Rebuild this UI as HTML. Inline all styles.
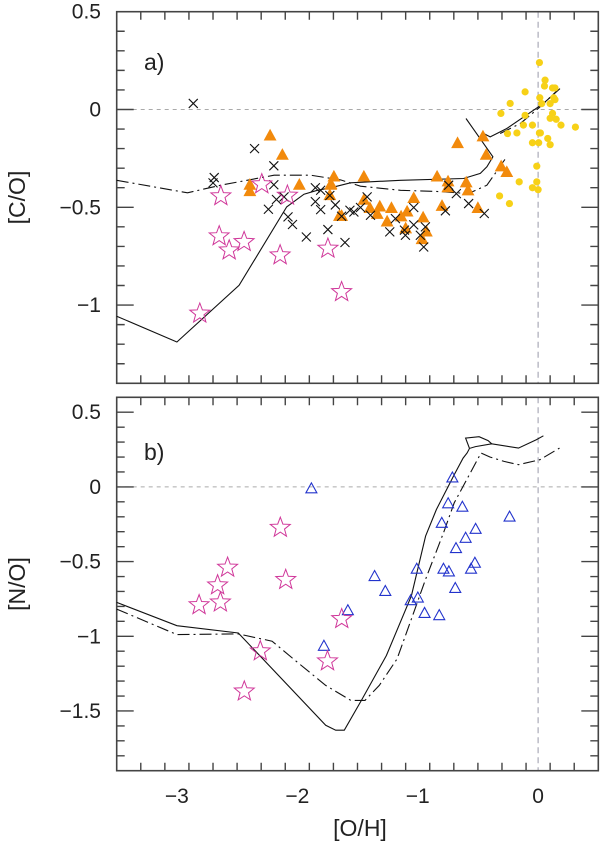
<!DOCTYPE html>
<html><head><meta charset="utf-8"><style>
html,body{margin:0;padding:0;background:#fff;}
svg{display:block;font-family:"Liberation Sans",sans-serif;}
</style></head><body>
<svg id="chart" width="600" height="843" viewBox="0 0 600 843"></svg>
<script>
// ---- data: panel a ----
const coCrossX=[-2.864,-2.69,-2.70,-2.355,-2.195,-2.195,-2.24,-2.173,-2.11,-2.077,-2.04,-1.925,-1.85,-1.85,-1.806,-1.806,-1.746,-1.73,-1.684,-1.632,-1.604,-1.563,-1.53,-1.475,-1.42,-1.392,-1.232,-1.185,-1.11,-1.102,-1.033,-1.033,-0.978,-0.95,-0.936,-0.77,-0.743,-0.679,-0.577,-0.447];
const coCrossY=[0.031,-0.348,-0.375,-0.20,-0.288,-0.385,-0.51,-0.46,-0.447,-0.549,-0.588,-0.652,-0.471,-0.40,-0.413,-0.512,-0.614,-0.44,-0.488,-0.546,-0.68,-0.515,-0.524,-0.501,-0.447,-0.541,-0.626,-0.558,-0.617,-0.643,-0.501,-0.59,-0.643,-0.703,-0.60,-0.518,-0.387,-0.43,-0.481,-0.532];
const coTriX=[-2.226,-2.124,-2.394,-2.394,-1.983,-1.696,-1.72,-1.73,-1.65,-1.723,-1.632,-1.447,-1.447,-1.397,-1.315,-1.336,-1.254,-1.218,-1.138,-1.088,-1.10,-1.033,-0.955,-0.928,-0.964,-0.839,-0.798,-0.748,-0.75,-0.669,-0.597,-0.582,-0.5,-0.431,-0.307,-0.26,-0.458];
const coTriY=[-0.135,-0.234,-0.387,-0.42,-0.387,-0.345,-0.384,-0.44,-0.546,-0.387,-0.546,-0.345,-0.464,-0.506,-0.498,-0.536,-0.575,-0.506,-0.549,-0.524,-0.61,-0.455,-0.554,-0.626,-0.665,-0.345,-0.495,-0.37,-0.40,-0.174,-0.375,-0.416,-0.506,-0.234,-0.293,-0.322,-0.14];
const coDotX=[-0.309,-0.232,-0.32,-0.238,-0.254,-0.176,-0.157,-0.108,-0.108,-0.122,-0.047,-0.047,-0.047,-0.011,-0.011,0.0,0.005,0.011,0.011,0.019,0.014,0.058,0.053,0.03,0.08,0.10,0.10,0.10,0.12,0.12,0.14,0.13,0.14,0.15,0.19,0.31];
const coDotY=[-0.02,0.031,-0.442,-0.481,-0.123,-0.12,-0.37,0.09,-0.03,-0.08,-0.08,-0.17,-0.40,-0.29,-0.37,-0.41,-0.17,0.24,-0.12,-0.12,0.06,0.15,0.12,0.03,-0.148,-0.18,-0.045,0.03,-0.02,0.11,0.11,0.06,0.05,-0.05,-0.08,-0.09];
const coStarX=[-2.635,-2.649,-2.566,-2.442,-2.295,-2.082,-2.143,-1.746,-2.81,-1.632];
const coStarY=[-0.443,-0.648,-0.72,-0.677,-0.382,-0.44,-0.745,-0.711,-1.043,-0.933];
const coSolidX=[-3.5,-3.0,-2.483,-2.088,-1.944,-1.834,-1.72,-1.558,-1.143,-0.619,-0.48,-0.425,-0.375,-0.599];
const coSolidY=[-1.057,-1.189,-0.899,-0.498,-0.433,-0.413,-0.40,-0.375,-0.362,-0.353,-0.327,-0.293,-0.242,-0.046];
const coSolid2X=[-0.46,-0.398,-0.26,-0.039,0.044,0.182];
const coSolid2Y=[-0.12,-0.14,-0.097,-0.004,0.031,0.107];
const coDashX=[-3.5,-2.912,-2.635,-2.193,-1.889,-1.64,-1.475,-1.143,-0.81,-0.58,-0.425,-0.356,-0.30,-0.26];
const coDashY=[-0.362,-0.426,-0.387,-0.336,-0.336,-0.36,-0.392,-0.413,-0.42,-0.43,-0.387,-0.327,-0.276,-0.242];
const coDash2X=[-0.315,-0.149,0.017,0.168];
const coDash2Y=[-0.123,-0.072,0.013,0.102];
// ---- data: panel b ----
const noTriX=[-1.883,-0.712,-0.747,-0.629,-0.80,-0.519,-0.602,-0.682,-0.237,-1.008,-0.786,-0.741,-0.525,-0.557,-1.358,-1.269,-1.058,-0.999,-0.688,-0.943,-0.821,-1.58,-1.779];
const noTriY=[-0.013,0.06,-0.113,-0.136,-0.244,-0.284,-0.344,-0.413,-0.202,-0.551,-0.551,-0.569,-0.511,-0.551,-0.60,-0.70,-0.762,-0.744,-0.68,-0.847,-0.862,-0.829,-1.067];
const noStarX=[-2.141,-2.579,-2.096,-2.662,-2.639,-2.816,-1.631,-2.307,-1.749,-2.44];
const noStarY=[-0.273,-0.54,-0.622,-0.658,-0.773,-0.791,-0.884,-1.10,-1.167,-1.369];
const noSolidX=[-3.5,-3.0,-2.49,-1.764,-1.681,-1.61,-1.468,-1.26,-1.052,-0.934,-0.845,-0.697,-0.623,-0.59,-0.57,-0.52,-0.385,-0.163,-0.015,0.044];
const noSolidY=[-0.773,-0.929,-0.978,-1.596,-1.629,-1.629,-1.429,-1.129,-0.729,-0.329,-0.151,0.082,0.193,0.227,0.258,0.27,0.289,0.26,0.316,0.342];
const noLoopX=[-0.57,-0.602,-0.49,-0.415,-0.385];
const noLoopY=[0.258,0.327,0.336,0.31,0.289];
const noDashX=[-3.5,-3.0,-2.49,-2.209,-2.001,-1.764,-1.556,-1.438,-1.319,-1.171,-1.052,-0.934,-0.786,-0.697,-0.578,-0.474,-0.4,-0.282,-0.163,0.015,0.178];
const noDashY=[-0.818,-0.989,-0.984,-1.033,-1.173,-1.329,-1.429,-1.429,-1.329,-1.151,-0.884,-0.618,-0.307,-0.107,0.071,0.227,0.2,0.171,0.149,0.182,0.26];
const xTicks=[-3,-2,-1,0];
const xTickLabels=["\u22123","\u22122","\u22121","0"];
const coYTicks=[0.5,0,-0.5,-1];
const coYTickLabels=["0.5","0","\u22120.5","\u22121"];
const noYTicks=[0.5,0,-0.5,-1,-1.5];
const noYTickLabels=["0.5","0","\u22120.5","\u22121","\u22121.5"];

const NS="http://www.w3.org/2000/svg";
const svg=document.getElementById('chart');
function mk(tag,attrs,parent){const e=document.createElementNS(NS,tag);for(const k in attrs)e.setAttribute(k,attrs[k]);(parent||svg).appendChild(e);return e;}
const X0=116.7,X1=598.3,XMIN=-3.5,XMAX=0.5;
const sx=v=>X0+(v-XMIN)/(XMAX-XMIN)*(X1-X0);
function panel(name,top,bottom,ymax,ymin){
  const g=mk('g',{});
  
  
  return {g,sy:v=>top+(ymax-v)/(ymax-ymin)*(bottom-top),top,bottom,ymax,ymin};
}
function axes(P,yTicks,yLabels,showX,ytitle,tag){
  const g=P.g,sy=P.sy;
  // zero lines
  const zl=mk('line',{x1:X0,x2:X1,y1:sy(0),y2:sy(0),stroke:'#aaa','stroke-width':1,'stroke-dasharray':'4,4'},g);
  
  
  const zv=mk('line',{x1:sx(0),x2:sx(0),y1:P.top,y2:P.bottom,stroke:'#99a','stroke-width':1,'stroke-dasharray':'6,4'},g);
  
  
  const fr=mk('rect',{x:X0,y:P.top,width:X1-X0,height:P.bottom-P.top,fill:'none',stroke:'#444','stroke-width':1.6},g);
  
  
  let d='';
  for(let i=-35;i<=5;i+=2){const v=i/10,x=sx(v);const L=(Math.abs(v-Math.round(v))<1e-6)?17:8;
    d+=`M${x},${P.bottom}v${-L}M${x},${P.top}v${L}`;}
  for(let i=Math.ceil(P.ymin*10);i<=Math.floor(P.ymax*10);i++){const v=i/10,y=sy(v);const L=(Math.abs(v*2-Math.round(v*2))<1e-6)?17:8;
    d+=`M${X0},${y}h${L}M${X1},${y}h${-L}`;}
  const tk=mk('path',{d,stroke:'#444','stroke-width':1.4,fill:'none'},g);
  
  
  yTicks.forEach((v,i)=>{const t=mk('text',{x:101,y:sy(v)+7,'text-anchor':'end','font-size':21,fill:'#222'},g);t.textContent=yLabels[i];
    
    });
  if(showX){xTicks.forEach((v,i)=>{const t=mk('text',{x:sx(v),y:803,'text-anchor':'middle','font-size':21,fill:'#222'},g);t.textContent=xTickLabels[i];
    
    });}
  const yt=mk('text',{x:0,y:0,'text-anchor':'middle','font-size':23,fill:'#222',transform:`translate(25,${(P.top+P.bottom)/2}) rotate(-90)`},g);
  yt.textContent=ytitle;
  
  
  const pl=mk('text',{x:144,y:tag==='a)'?70:460,'font-size':23,fill:'#222'},g);
  pl.textContent=tag;
  
  
}
function line(P,xs,ys,dash,name){
  const pts=xs.map((v,i)=>sx(v).toFixed(1)+','+P.sy(ys[i]).toFixed(1)).join(' ');
  const e=mk('polyline',{points:pts,fill:'none',stroke:'#111','stroke-width':1.1,'stroke-dasharray':dash||'none'},P.g);
  
  
}
function starPath(cx,cy,R){const r=R*0.42;let d='';for(let i=0;i<10;i++){const a=-Math.PI/2+i*Math.PI/5,rr=i%2?r:R;d+=(i?'L':'M')+(cx+rr*Math.cos(a)).toFixed(1)+','+(cy+rr*Math.sin(a)).toFixed(1);}return d+'Z';}
function stars(P,xs,ys){xs.forEach((v,i)=>{const e=mk('path',{d:starPath(sx(v),P.sy(ys[i]),10.5),fill:'none',stroke:'#d0389a','stroke-width':1},P.g);
  
  });}
function tris(P,xs,ys,fill,stroke,s,name){xs.forEach((v,i)=>{const x=sx(v),y=P.sy(ys[i]);
  const e=mk('path',{d:`M${x},${y-s*0.6}L${x+s*0.55},${y+s*0.4}L${x-s*0.55},${y+s*0.4}Z`,fill,stroke,'stroke-width':1.1},P.g);
  
  });}

const A=panel('panel-a-co',11.7,383.3,0.5,-1.4);
axes(A,coYTicks,coYTickLabels,false,'[C/O]','a)');
line(A,coSolidX,coSolidY,null,'model-solid-line');
line(A,coSolid2X,coSolid2Y,null,'model-solid-line-upper');
line(A,coDashX,coDashY,'12,4,2,4','model-dashdot-line');
line(A,coDash2X,coDash2Y,'12,4,2,4','model-dashdot-line-upper');
coDotX.forEach((v,i)=>{const e=mk('circle',{cx:sx(v),cy:A.sy(coDotY[i]),r:3.6,fill:'#f7d117'},A.g);
  
  });
tris(A,coTriX,coTriY,'#f28a0c','#f28a0c',10,'orange-triangle');
coCrossX.forEach((v,i)=>{const x=sx(v),y=A.sy(coCrossY[i]);
  const e=mk('path',{d:`M${x-4.5},${y-4.5}L${x+4.5},${y+4.5}M${x-4.5},${y+4.5}L${x+4.5},${y-4.5}`,stroke:'#111','stroke-width':1.1},A.g);
  
  });
stars(A,coStarX,coStarY);

const B=panel('panel-b-no',397.3,770.7,0.6,-1.9);
axes(B,noYTicks,noYTickLabels,true,'[N/O]','b)');
line(B,noSolidX,noSolidY,null,'model-solid-line');
line(B,noLoopX,noLoopY,null,'model-solid-loop');
line(B,noDashX,noDashY,'12,4,2,4','model-dashdot-line');
tris(B,noTriX,noTriY,'none','#2233cc',10,'blue-triangle');
stars(B,noStarX,noStarY);
const xt=mk('text',{x:360,y:836,'text-anchor':'middle','font-size':23,fill:'#222'});
xt.textContent='[O/H]';


</script>
</body></html>
